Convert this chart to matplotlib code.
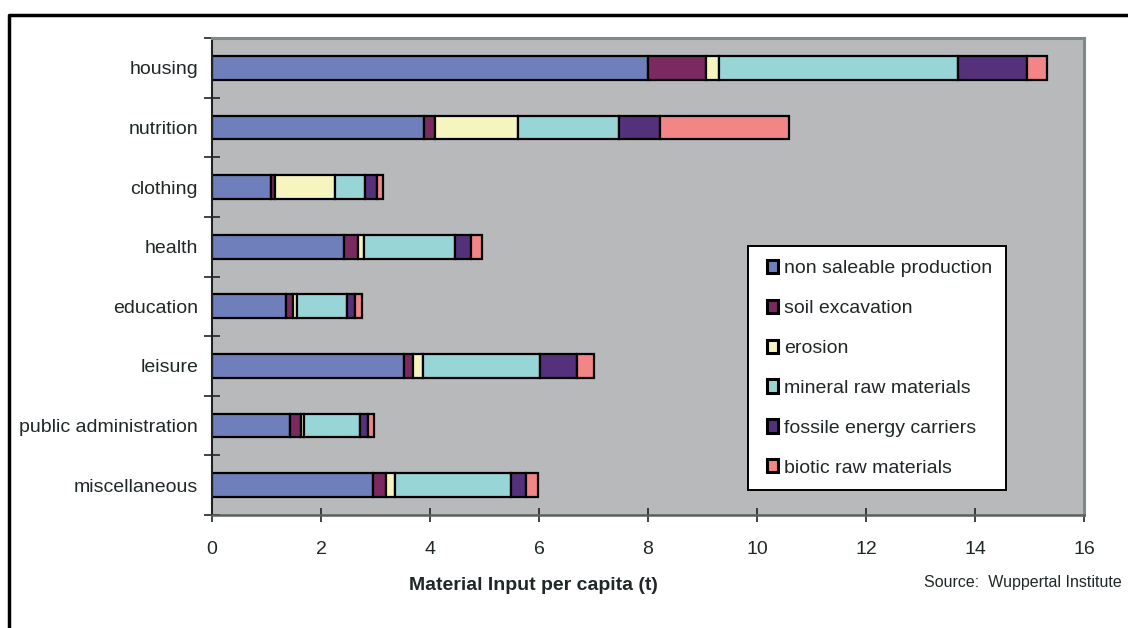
import numpy as np
import matplotlib
matplotlib.use('Agg')
import matplotlib.pyplot as plt
from matplotlib.patches import Patch, Rectangle
from matplotlib.lines import Line2D
from matplotlib.legend_handler import HandlerPatch

# ============================== Data =========================================
categories = ['housing', 'nutrition', 'clothing', 'health', 'education',
              'leisure', 'public administration', 'miscellaneous']

series = ['non saleable production', 'soil excavation', 'erosion',
          'mineral raw materials', 'fossile energy carriers',
          'biotic raw materials']

non_saleable = [8.00, 3.89, 1.08, 2.42, 1.35, 3.52, 1.44, 2.96]
soil_excav   = [1.06, 0.20, 0.07, 0.25, 0.13, 0.17, 0.19, 0.24]
erosion      = [0.25, 1.53, 1.11, 0.11, 0.08, 0.18, 0.05, 0.16]
mineral      = [4.38, 1.85, 0.54, 1.68, 0.92, 2.14, 1.04, 2.12]
fossile      = [1.26, 0.75, 0.22, 0.30, 0.15, 0.69, 0.15, 0.28]
biotic       = [0.38, 2.36, 0.11, 0.19, 0.12, 0.31, 0.10, 0.22]

colors = ['#6F7FBB', '#7B2A60', '#F6F5C0', '#98D5D6', '#55317C', '#F28585']

# ============================== Functions ====================================
def small_square(legend, orig_handle, xdescent, ydescent, width, height, fontsize):
    # little square box, pushed to the right side of the handle area
    w, h = 8.0, 9.5
    return Rectangle((-xdescent + width - w, -ydescent + (height - h) / 2), w, h)

# ============================== Plot =========================================
plt.rcParams['font.family'] = ['Liberation Sans', 'DejaVu Sans']
txt = '#1f2828'

fig = plt.figure(figsize=(11.28, 6.28), dpi=100)
ax = fig.add_axes([212/1128, 1-515/628, 872/1128, 477/628])
ax.set_facecolor('#B8B9BB')

y = np.arange(len(categories))
left = np.zeros(len(categories))
for vals, col, name in zip([non_saleable, soil_excav, erosion, mineral, fossile, biotic],
                           colors, series):
    ax.barh(y, vals, left=left, height=0.4, color=col, edgecolor='black',
            linewidth=1.6, label=name)
    left = left + np.array(vals)

ax.set_xlim(0, 16)
ax.set_ylim(len(categories) - 0.5, -0.5)
ax.set_xticks(np.arange(0, 17, 2))
ax.set_yticks(y)
ax.set_yticklabels(categories)
ax.set_yticks(np.arange(-0.5, len(categories), 1), minor=True)

ax.tick_params(axis='y', which='major', length=0, pad=10, labelsize=14, labelcolor=txt)
ax.tick_params(axis='y', which='minor', length=11, width=1.2, direction='inout', color='#222222')
ax.tick_params(axis='x', length=9.5, width=1.2, direction='inout', pad=14,
               labelsize=14, labelcolor=txt, color='#222222')

ax.spines['left'].set_color('#222222')
ax.spines['left'].set_linewidth(1.5)
ax.spines['bottom'].set_color('#5a5e5e')
ax.spines['bottom'].set_linewidth(1.8)
for s in ['top', 'right']:
    ax.spines[s].set_color('#7d8a88')
    ax.spines[s].set_linewidth(2.2)

# legend
handles = [Patch(facecolor=c, edgecolor='black', linewidth=2.2) for c in colors]
leg = ax.legend(handles, series, loc='lower left', bbox_to_anchor=(0.615, 0.052),
                frameon=True, fancybox=False, framealpha=1, edgecolor='black',
                fontsize=14, handlelength=0.85, handleheight=0.75, handletextpad=0.3,
                labelspacing=1.13, borderpad=0.7, borderaxespad=0,
                handler_map={Patch: HandlerPatch(patch_func=small_square)})
leg.get_frame().set_linewidth(1.4)
for t in leg.get_texts():
    t.set_color(txt)

fig.text(533/1128, 1-585/628, 'Material Input per capita (t)', ha='center', va='center',
         fontsize=14, fontweight='bold', color=txt)
fig.text(1122/1128, 1-582/628, 'Source:  Wuppertal Institute', ha='right', va='center',
         fontsize=11.5, color=txt)

# outer frame (cropped at right and bottom)
fig.add_artist(Line2D([9/1128, 9/1128, 1.0], [0.0, 1-15/628, 1-15/628],
                      transform=fig.transFigure, color='black', linewidth=2.5))

fig.savefig('out.png', dpi=100)
